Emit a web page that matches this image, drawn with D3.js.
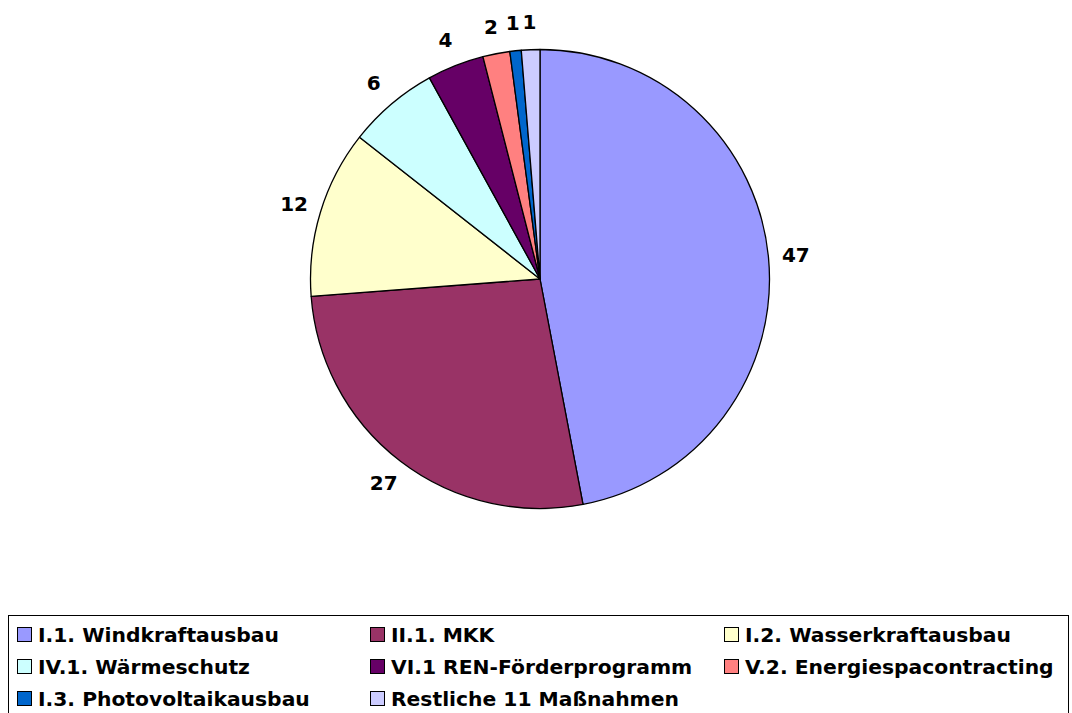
<!DOCTYPE html>
<html><head><meta charset="utf-8">
<script src="https://cdn.jsdelivr.net/npm/d3@7"></script>
<style>html,body{margin:0;padding:0;background:#fff;overflow:hidden}</style>
</head><body>
<script>
const categories = ["I.1. Windkraftausbau","II.1. MKK","I.2. Wasserkraftausbau","IV.1. Wärmeschutz","VI.1 REN-Förderprogramm","V.2. Energiespacontracting","I.3. Photovoltaikausbau","Restliche 11 Maßnahmen"];
const values = [47.0, 26.8, 11.8, 6.4, 4.0, 1.9, 0.8, 1.3];
const labels = ["47","27","12","6","4","2","1","1"];
const colors = ["#9999FF","#993366","#FFFFCC","#CCFFFF","#660066","#FF8080","#0066CC","#CCCCFF"];

const W = 1072, H = 713;
const font = "'DejaVu Sans', sans-serif";
const svg = d3.select("body").append("svg").attr("width", W).attr("height", H);

const cx = 540, cy = 279, R = 229.5;
const pie = d3.pie().sort(null).value(d => d)(values);
const arc = d3.arc().innerRadius(0).outerRadius(R);
const g = svg.append("g").attr("transform", `translate(${cx},${cy})`);
g.selectAll("path").data(pie).join("path")
  .attr("d", arc).attr("fill", (d,i) => colors[i])
  .attr("stroke", "#000").attr("stroke-width", 1.3).attr("stroke-linejoin","round");

const labelArc = d3.arc().innerRadius(257).outerRadius(257);
g.selectAll("text").data(pie).join("text")
  .attr("transform", d => `translate(${labelArc.centroid(d)})`)
  .attr("text-anchor", "middle").attr("dominant-baseline", "central")
  .attr("font-family", font).attr("font-weight", "bold").attr("font-size", 20)
  .text((d,i) => labels[i]);

// legend
const lg = svg.append("g");
lg.append("rect").attr("x", 8.5).attr("y", 615.5).attr("width", 1060).attr("height", 120)
  .attr("fill", "#fff").attr("stroke", "#000").attr("stroke-width", 1);
const colX = [17, 370, 724];
const rowY = [635, 667, 699];
categories.forEach((c, i) => {
  const x = colX[i % 3], y = rowY[Math.floor(i / 3)];
  lg.append("rect").attr("x", x + 0.5).attr("y", y - 7.5).attr("width", 14).attr("height", 14)
    .attr("fill", colors[i]).attr("stroke", "#000").attr("stroke-width", 1);
  lg.append("text").attr("x", x + 21).attr("y", y).attr("dominant-baseline", "central")
    .attr("font-family", font).attr("font-weight", "bold").attr("font-size", 20.3)
    .text(c);
});
</script>
</body></html>
